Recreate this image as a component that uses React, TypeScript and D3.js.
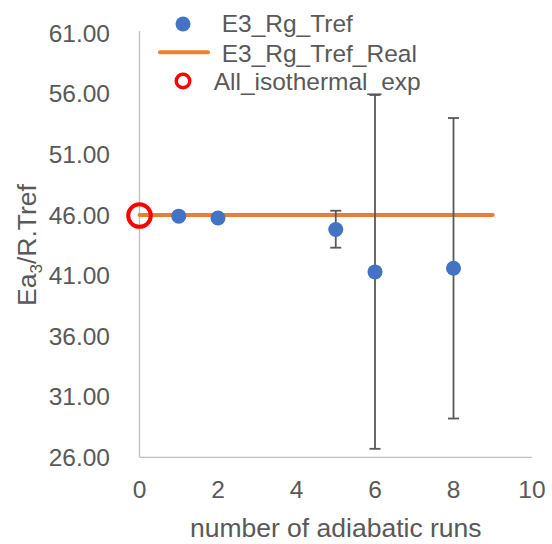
import React from "react";
import * as d3 from "d3";

const runs = [1, 2, 5, 6, 8];
const values = [45.9, 45.75, 44.8, 41.3, 41.6];
const errUpper = [45.9, 45.75, 46.35, 55.9, 54.0];
const errLower = [45.9, 45.75, 43.3, 26.7, 29.2];
const realX = [0, 9];
const realY = [46.0, 46.0];
const isoX = [0];
const isoY = [45.95];
const xTicks = [0, 2, 4, 6, 8, 10];
const yTicks = [26, 31, 36, 41, 46, 51, 56, 61];
const legendLabels = ["E3_Rg_Tref", "E3_Rg_Tref_Real", "All_isothermal_exp"];

const W = 552;
const H = 544;
const FONT = "'Liberation Sans', Arial, sans-serif";
const GREY = "#595959";

export default function App() {
  const x = d3.scaleLinear().domain([0, 10]).range([139.5, 532]);
  const y = d3.scaleLinear().domain([26, 61]).range([457.3, 33.2]);
  const line = d3
    .line<number>()
    .x((_, i) => x(realX[i]))
    .y((d) => y(d));

  return (
    <svg
      width={W}
      height={H}
      style={{ position: "absolute", left: 0, top: 0, background: "#fff" }}
      fontFamily={FONT}
    >
      <rect width={W} height={H} fill="#fff" />
      {/* axes */}
      <line x1={x(0)} x2={x(0)} y1={31} y2={y(26)} stroke="#BFBFBF" strokeWidth={1.3} />
      <line x1={x(0)} x2={x(10)} y1={y(26)} y2={y(26)} stroke="#BFBFBF" strokeWidth={1.3} />
      {/* y ticks */}
      {yTicks.map((t) => (
        <text key={t} x={110} y={y(t)} dy="0.35em" textAnchor="end" fontSize={24.5} fill={GREY}>
          {t.toFixed(2)}
        </text>
      ))}
      {/* x ticks */}
      {xTicks.map((t) => (
        <text key={t} x={x(t)} y={497.7} textAnchor="middle" fontSize={24.5} fill={GREY}>
          {t}
        </text>
      ))}
      {/* axis titles */}
      <text x={(x(0) + x(10)) / 2} y={536.5} textAnchor="middle" fontSize={26.5} fill={GREY}>
        number of adiabatic runs
      </text>
      <text
        transform={`translate(36,${245}) rotate(-90)`}
        textAnchor="middle"
        fontSize={26.5}
        fill={GREY}
      >
        Ea<tspan fontSize={17} dy={6}>3</tspan>
        <tspan dy={-6}>/R.Tref</tspan>
      </text>
      {/* orange real line */}
      <path d={line(realY) || ""} fill="none" stroke="#ED7D31" strokeWidth={4} strokeLinecap="round" />
      {/* error bars */}
      {runs.map((r, i) =>
        errUpper[i] - errLower[i] > 0.2 ? (
          <g key={"e" + i} stroke="#595959" strokeWidth={1.8}>
            <line x1={x(r)} x2={x(r)} y1={y(errUpper[i])} y2={y(errLower[i])} />
            <line x1={x(r) - 5.5} x2={x(r) + 5.5} y1={y(errUpper[i])} y2={y(errUpper[i])} />
            <line x1={x(r) - 5.5} x2={x(r) + 5.5} y1={y(errLower[i])} y2={y(errLower[i])} />
          </g>
        ) : null
      )}
      {/* blue points */}
      {runs.map((r, i) => (
        <circle key={"p" + i} cx={x(r)} cy={y(values[i])} r={7.5} fill="#4472C4" />
      ))}
      {/* isothermal */}
      {isoX.map((r, i) => (
        <circle key={"iso" + i} cx={x(r)} cy={y(isoY[i])} r={11.3} fill="none" stroke="#FF0000" strokeWidth={4} />
      ))}
      {/* legend */}
      <circle cx={183} cy={24} r={7.5} fill="#4472C4" />
      <text x={221.7} y={31.7} fontSize={24.5} fill={GREY}>
        {legendLabels[0]}
      </text>
      <line x1={160} x2={208} y1={52.3} y2={52.3} stroke="#ED7D31" strokeWidth={4} strokeLinecap="round" />
      <text x={221.7} y={61.5} fontSize={24.5} fill={GREY}>
        {legendLabels[1]}
      </text>
      <circle cx={183} cy={81} r={6.8} fill="none" stroke="#FF0000" strokeWidth={3.4} />
      <text x={213.7} y={90} fontSize={24.5} fill={GREY}>
        {legendLabels[2]}
      </text>
    </svg>
  );
}
